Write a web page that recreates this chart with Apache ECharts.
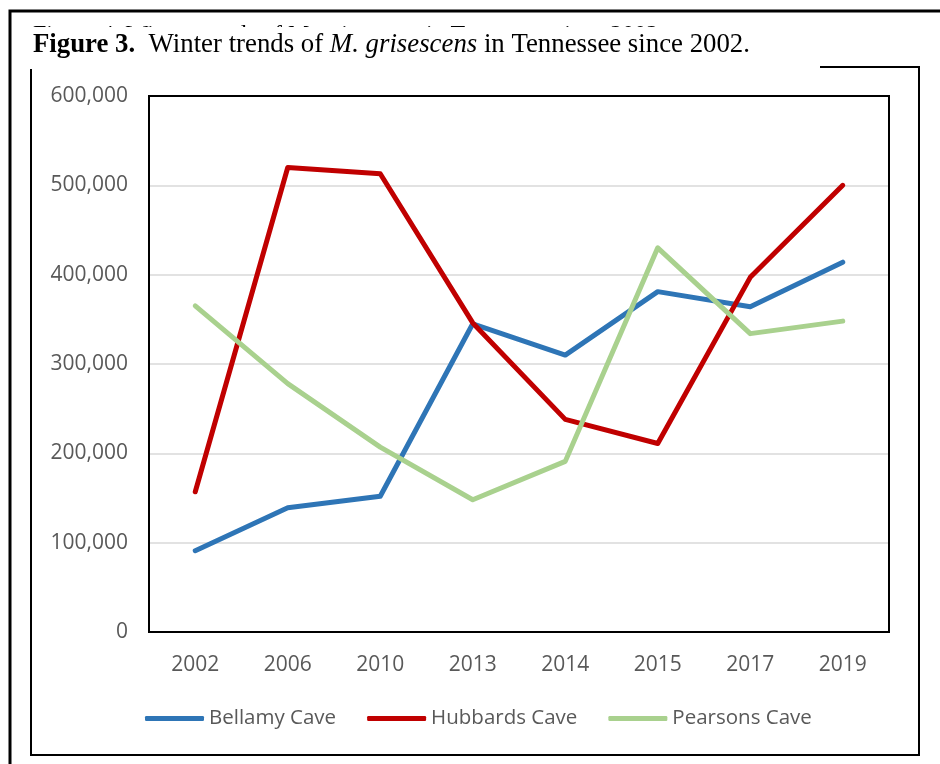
<!DOCTYPE html>
<html>
<head>
<meta charset="utf-8">
<script src="https://cdn.jsdelivr.net/npm/echarts@6/dist/echarts.min.js"></script>
<style>
  html, body { margin: 0; padding: 0; background: #fff; }
  #main { width: 940px; height: 764px; }
</style>
</head>
<body>
<div id="main"></div>
<script>
    "use strict";

    // data
    var years = ['2002', '2006', '2010', '2013', '2014', '2015', '2017', '2019'];
    var bellamy = [91000, 139000, 152000, 345000, 310000, 381000, 364000, 414000];
    var hubbards = [157000, 520000, 513000, 346000, 238000, 211000, 397000, 500000];
    var pearsons = [365000, 278000, 207000, 148000, 191000, 430000, 334000, 348000];
    var seriesNames = ['Bellamy Cave', 'Hubbards Cave', 'Pearsons Cave'];
    var seriesColors = ['#2E75B6', '#C00000', '#A9D18E'];

    var serif = '"Liberation Serif", "Times New Roman", serif';
    var sans = '"Open Sans", "Noto Sans", sans-serif';

    var chart = echarts.init(document.getElementById('main'), null, {renderer: 'canvas'});

    var makeSeries = function (name, values, color) {
        return {
            name: name,
            type: 'line',
            data: values,
            showSymbol: false,
            symbol: 'none',
            color: color,
            lineStyle: {width: 5, color: color, cap: 'round', join: 'round'},
            emphasis: {disabled: true}
        };
    };

    var option = {
        animation: false,
        backgroundColor: '#fff',
        grid: {
            left: 149, right: 51, top: 96, bottom: 132,
            containLabel: false
        },
        legend: {
            left: 140,
            top: 703,
            icon: 'roundRect',
            itemWidth: 59,
            itemHeight: 5,
            itemGap: 31,
            textStyle: {fontFamily: sans, fontSize: 20.5, color: '#595959'},
            data: seriesNames
        },
        xAxis: {
            type: 'category',
            data: years,
            boundaryGap: true,
            axisLine: {show: false},
            axisTick: {show: false},
            axisLabel: {fontFamily: sans, fontSize: 21, color: '#595959', margin: 23}
        },
        yAxis: {
            type: 'value',
            min: 0,
            max: 600000,
            interval: 100000,
            axisLine: {show: false},
            axisTick: {show: false},
            splitLine: {lineStyle: {color: '#D9D9D9', width: 1.5}},
            axisLabel: {
                fontFamily: sans, fontSize: 21, color: '#595959', margin: 21,
                formatter: function (v) {
                    return v.toString().replace(/\B(?=(\d{3})+(?!\d))/g, ',');
                }
            }
        },
        series: [
            makeSeries(seriesNames[0], bellamy, seriesColors[0]),
            makeSeries(seriesNames[1], hubbards, seriesColors[1]),
            makeSeries(seriesNames[2], pearsons, seriesColors[2])
        ],
        graphic: [
            // plot area border
            {type: 'rect', z: 10, shape: {x: 149, y: 96, width: 740, height: 536},
                style: {fill: null, stroke: '#000', lineWidth: 2}},
            // outer page box
            {type: 'rect', z: 10, shape: {x: 10, y: 11, width: 960, height: 800},
                style: {fill: null, stroke: '#000', lineWidth: 3}},
            // chart frame
            {type: 'rect', z: 10, shape: {x: 31, y: 67, width: 888, height: 688},
                style: {fill: null, stroke: '#000', lineWidth: 2}},
            // older caption hidden behind the new one
            {type: 'text', z: 11, x: 33, y: 35,
                style: {
                    text: 'Figure 4. Winter trends of M. grisescens in Tennessee since 2002',
                    font: '24px ' + serif, fill: '#000', verticalAlign: 'middle'
                }},
            {type: 'rect', z: 12, shape: {x: 14, y: 27, width: 806, height: 42},
                style: {fill: '#fff', stroke: null}},
            {type: 'text', z: 13, x: 33, y: 45,
                style: {
                    text: '{b|Figure 3.}  Winter trends of {i|M. grisescens} in Tennessee since 2002.',
                    font: '26.8px ' + serif, fill: '#000', verticalAlign: 'middle',
                    rich: {
                        b: {fontFamily: serif, fontSize: 26.8, fontWeight: 'bold', fill: '#000'},
                        i: {fontFamily: serif, fontSize: 26.8, fontStyle: 'italic', fill: '#000'}
                    }
                }}
        ]
    };

    chart.setOption(option);
</script>
</body>
</html>
